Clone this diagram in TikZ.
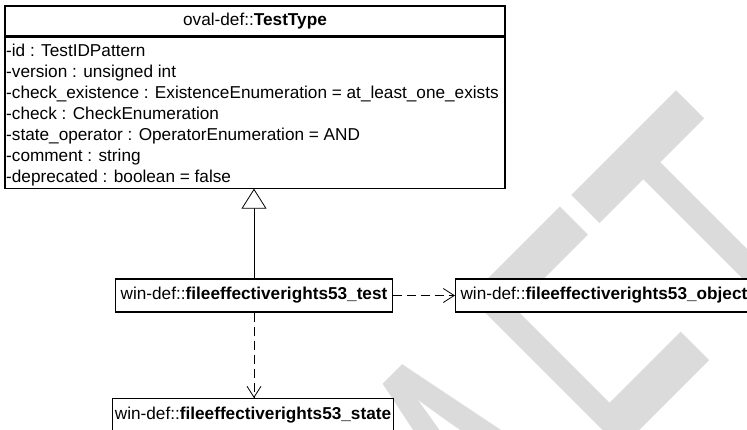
\documentclass[tikz,border=0pt]{standalone}
\usepackage{fontspec}
\setmainfont{Liberation Sans}
\usetikzlibrary{arrows.meta}

\begin{document}
\begin{tikzpicture} [x=1pt,y=1pt,
  umlfont/.style={font=\fontsize{17.2}{21}\selectfont},
  classbox/.style={draw,line width=1.1pt,fill=white,inner sep=0,minimum width=500pt,umlfont},
  attr/.style={anchor=base west,inner sep=0,umlfont},
  defbox/.style={draw,line width=1.1pt,fill=white,inner xsep=5pt,inner ysep=0,minimum height=33pt,umlfont},
  depends/.style={line width=0.8pt,dash pattern=on 9pt off 5pt,-{Straight Barb[length=11pt,width=14pt]}},
  inherits/.style={line width=0.8pt,-{Triangle[open,fill=white,length=20pt,width=25pt]}},
  draftmark/.style={text=black!14,inner sep=0,anchor=base east,rotate=45,xscale=0.5,font=\fontsize{524}{524}\selectfont}]
\useasboundingbox (0,0) rectangle (747,-429);
\clip (0,0) rectangle (747,-429);

% watermark behind everything
\node[draftmark] (draft) at (935.5,-341.5) {DRAFT};

\node[classbox,minimum height=30pt] (testtype) at (255,-21) {oval-def::\textbf{TestType}};
\node[classbox,minimum height=151pt,anchor=north] (testtype body) at (testtype.south) {};
\foreach \attr [count=\i] in {-id : TestIDPattern,
  -version : unsigned int,
  -check\_existence : ExistenceEnumeration = at\_least\_one\_exists,
  -check : CheckEnumeration,
  -state\_operator : OperatorEnumeration = AND,
  -comment : string,
  -deprecated : boolean = false}{%
  \node[attr] (attr\i) at (6,{-56-21*(\i-1)}) {\attr};}

\node[defbox] (test) at (254,-295.5) {win-def::\textbf{fileeffectiverights53\_test}};
\node[defbox,anchor=west] (object) at (455,-295.5) {win-def::\textbf{fileeffectiverights53\_object}};
\node[defbox,anchor=north,inner xsep=2.2pt] (state) at (253,-398) {win-def::\textbf{fileeffectiverights53\_state}};

\draw[inherits] (test.north) -- (test.north |- testtype body.south);
\draw[depends] (test) -- (object);
\draw[depends] (test.south) -- (test.south |- state.north);
\end{tikzpicture}
\end{document}
